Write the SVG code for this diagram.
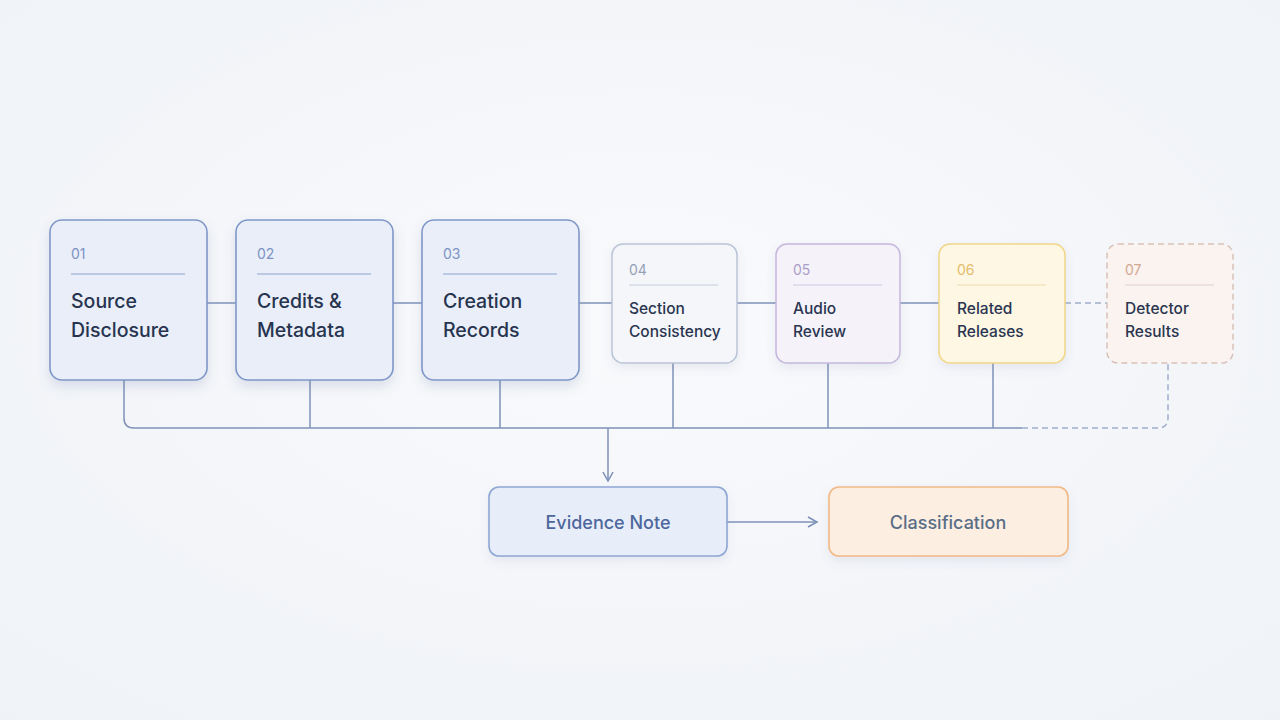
<svg xmlns="http://www.w3.org/2000/svg" width="1280" height="720" viewBox="0 0 1280 720">
<defs>
<radialGradient id="bg" cx="50%" cy="45%" r="75%">
<stop offset="0" stop-color="#f9fafc"/>
<stop offset="1" stop-color="#eff2f7"/>
</radialGradient>
<filter id="sh" x="-20%" y="-20%" width="140%" height="150%">
<feDropShadow dx="0" dy="6" stdDeviation="6" flood-color="#5a6f9a" flood-opacity="0.18"/>
</filter>
<filter id="shl" x="-20%" y="-20%" width="140%" height="150%">
<feDropShadow dx="0" dy="5" stdDeviation="5" flood-color="#5a6f9a" flood-opacity="0.10"/>
</filter>
<marker id="ah" viewBox="0 0 12 12" refX="10" refY="6" markerWidth="12" markerHeight="12" markerUnits="userSpaceOnUse" orient="auto">
<path d="M1,1 L10,6 L1,11" fill="none" stroke="#7a8fb8" stroke-width="1.5"/>
</marker>
</defs>
<style>
text{font-family:Inter,"Noto Sans","Liberation Sans",sans-serif}
.big{fill:#e9eef8;stroke:#7f97c8;stroke-width:1.6}
.num{font-size:14px;font-weight:400}
.t1{font-size:19.5px;font-weight:500;fill:#27344f}
.t2{font-size:15.5px;font-weight:500;fill:#2a3550}
.c{fill:none;stroke:#7f92b8;stroke-width:1.5}
.d{fill:none;stroke:#9faecb;stroke-width:1.5;stroke-dasharray:6 4}
</style>
<rect width="1280" height="720" fill="url(#bg)"/>
<g id="connectors">
<path class="c" d="M207 303H236M393 303H422M579 303H612M737 303H776M900 303H939"/>
<path class="d" d="M1065 303H1107"/>
<path class="c" d="M124 380V418Q124 428 134 428H1022"/>
<path class="c" d="M310 380V428M500 380V428M673 363V428M828 363V428M993 363V428"/>
<path class="d" d="M1022 428H1158Q1168 428 1168 418V364"/>
<path class="c" d="M608 428V481" marker-end="url(#ah)"/>
<path class="c" d="M727 522H817" marker-end="url(#ah)"/>
</g>
<g id="n01">
<rect class="big" x="50" y="220" width="157" height="160" rx="12" filter="url(#sh)"/>
<text class="num" x="71" y="259" fill="#7d93c4">01</text>
<line x1="71" y1="274" x2="185" y2="274" stroke="#8ea3cf" stroke-width="1.2"/>
<text class="t1" x="71" y="308">Source</text>
<text class="t1" x="71" y="337">Disclosure</text>
</g>
<g id="n02">
<rect class="big" x="236" y="220" width="157" height="160" rx="12" filter="url(#sh)"/>
<text class="num" x="257" y="259" fill="#7d93c4">02</text>
<line x1="257" y1="274" x2="371" y2="274" stroke="#8ea3cf" stroke-width="1.2"/>
<text class="t1" x="257" y="308">Credits &amp;</text>
<text class="t1" x="257" y="337">Metadata</text>
</g>
<g id="n03">
<rect class="big" x="422" y="220" width="157" height="160" rx="12" filter="url(#sh)"/>
<text class="num" x="443" y="259" fill="#7d93c4">03</text>
<line x1="443" y1="274" x2="557" y2="274" stroke="#8ea3cf" stroke-width="1.2"/>
<text class="t1" x="443" y="308">Creation</text>
<text class="t1" x="443" y="337">Records</text>
</g>
<g id="n04">
<rect x="612" y="244" width="125" height="119" rx="11" fill="#f4f6fa" stroke="#bac4d7" stroke-width="1.5" filter="url(#shl)"/>
<text class="num" x="629" y="275" fill="#95a1b8">04</text>
<line x1="629" y1="285" x2="718" y2="285" stroke="#c3cbdb" stroke-width="1.2"/>
<text class="t2" x="629" y="314">Section</text>
<text class="t2" x="629" y="337">Consistency</text>
</g>
<g id="n05">
<rect x="776" y="244" width="124" height="119" rx="11" fill="#f5f3f9" stroke="#c6b8dd" stroke-width="1.5" filter="url(#shl)"/>
<text class="num" x="793" y="275" fill="#aa9dc8">05</text>
<line x1="793" y1="285" x2="882" y2="285" stroke="#cfc5e2" stroke-width="1.2"/>
<text class="t2" x="793" y="314">Audio</text>
<text class="t2" x="793" y="337">Review</text>
</g>
<g id="n06">
<rect x="939" y="244" width="126" height="119" rx="11" fill="#fdf7e4" stroke="#f1d688" stroke-width="1.5" filter="url(#shl)"/>
<text class="num" x="957" y="275" fill="#e3bd6a">06</text>
<line x1="957" y1="285" x2="1046" y2="285" stroke="#eedcae" stroke-width="1.2"/>
<text class="t2" x="957" y="314">Related</text>
<text class="t2" x="957" y="337">Releases</text>
</g>
<g id="n07">
<rect x="1107" y="244" width="126" height="119" rx="11" fill="#faf3ef" stroke="#d8c2b8" stroke-width="1.5" stroke-dasharray="6 4"/>
<text class="num" x="1125" y="275" fill="#d2a893">07</text>
<line x1="1125" y1="285" x2="1214" y2="285" stroke="#e3d2ca" stroke-width="1.2"/>
<text class="t2" x="1125" y="314">Detector</text>
<text class="t2" x="1125" y="337">Results</text>
</g>
<g id="evidence">
<rect x="489" y="487" width="238" height="69" rx="10" fill="#e8eef9" stroke="#8ea6d4" stroke-width="1.6" filter="url(#shl)"/>
<text x="608" y="529" text-anchor="middle" font-size="18" font-weight="500" fill="#4d679d">Evidence Note</text>
</g>
<g id="classification">
<rect x="829" y="487" width="239" height="69" rx="10" fill="#fcefe2" stroke="#f1b985" stroke-width="1.6" filter="url(#shl)"/>
<text x="948" y="529" text-anchor="middle" font-size="18" font-weight="500" fill="#5a6d86">Classification</text>
</g>
</svg>
